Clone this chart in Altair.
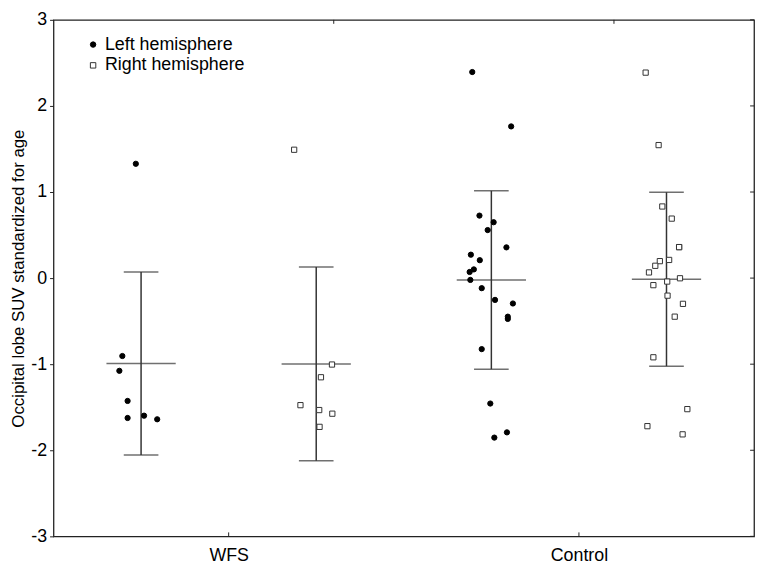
import altair as alt
import pandas as pd

# ---- data ----
series_names = ["WFS Left", "WFS Right", "Control Left", "Control Right"]
series_pos = [1, 2, 3, 4]
series_hemi = ["Left hemisphere", "Right hemisphere", "Left hemisphere", "Right hemisphere"]

wfs_left_y = [1.328, -0.905, -1.077, -1.427, -1.625, -1.598, -1.640]
wfs_left_jit = [-0.030, -0.107, -0.124, -0.077, -0.077, 0.017, 0.092]

wfs_right_y = [1.491, -1.004, -1.152, -1.476, -1.533, -1.575, -1.728]
wfs_right_jit = [-0.126, 0.090, 0.027, -0.090, 0.017, 0.092, 0.019]

ctrl_left_y = [2.394, 1.762, 0.726, 0.649, 0.558, 0.357, 0.272, 0.208, 0.101, 0.071,
               -0.021, -0.117, -0.253, -0.295, -0.448, -0.474, -0.825, -1.457, -1.792, -1.853]
ctrl_left_jit = [-0.109, 0.113, -0.068, 0.013, -0.021, 0.086, -0.117, -0.066, -0.100, -0.124,
                 -0.120, -0.055, 0.021, 0.123, 0.094, 0.094, -0.055, -0.006, 0.089, 0.017]

ctrl_right_y = [2.387, 1.545, 0.832, 0.691, 0.360, 0.211, 0.197, 0.143, 0.066, -0.002,
                -0.040, -0.082, -0.204, -0.299, -0.448, -0.920, -1.522, -1.720, -1.815, 0.360]
ctrl_right_jit = [-0.119, -0.045, -0.024, 0.030, 0.072, 0.015, -0.038, -0.064, -0.100, 0.077,
                  0.004, -0.075, 0.006, 0.094, 0.047, -0.075, 0.119, -0.109, 0.092, 0.072]

group_tick_values = [1.5, 3.5]
group_tick_labels = ["WFS", "Control"]
top_tick_values = [2.1, 3.7]
y_tick_values = [-3, -2, -1, 0, 1, 2, 3]

# ---- build tables ----
all_y = [wfs_left_y, wfs_right_y, ctrl_left_y, ctrl_right_y]
all_jit = [wfs_left_jit, wfs_right_jit, ctrl_left_jit, ctrl_right_jit]

rows = []
for name, pos, hemi, ys, js in zip(series_names, series_pos, series_hemi, all_y, all_jit):
    for yv, jv in zip(ys, js):
        rows.append({"series": name, "x": pos + jv, "y": yv, "hemi": hemi})
pts = pd.DataFrame(rows)

summ_rows = []
for name, pos, ys in zip(series_names, series_pos, all_y):
    s = pd.Series(ys)
    m, sd = s.mean(), s.std(ddof=1)
    summ_rows.append({"series": name, "pos": pos, "mean": m, "lo": m - sd, "hi": m + sd})
summ = pd.DataFrame(summ_rows)

ticks_df = pd.DataFrame({"v": group_tick_values, "lab": group_tick_labels})
top_df = pd.DataFrame({"v": top_tick_values})
yt_df = pd.DataFrame({"v": y_tick_values})

FONT = "Liberation Sans"
FS = 18
LINE = "#333333"
H = 522

xscale = alt.Scale(domain=[0.5, 4.5], nice=False, zero=False)
yscale = alt.Scale(domain=[-3, 3], nice=False, zero=False)

label_expr = "datum.value == 1.5 ? 'WFS' : (datum.value == 3.5 ? 'Control' : '')"

xenc = alt.X("pos:Q", scale=xscale,
             axis=alt.Axis(values=group_tick_values, labelExpr=label_expr, title=None,
                           domain=False, ticks=False, grid=False, labelPadding=10,
                           labelFontSize=FS, labelFont=FONT, labelColor="black"))
yaxis = alt.Axis(values=y_tick_values, labelExpr="'' + datum.value", grid=False, domain=False,
                 tickSize=4, tickColor="#222222", labelPadding=3, labelFontSize=FS,
                 labelFont=FONT, labelColor="black",
                 title="Occipital lobe SUV standardized for age", titleFontSize=17,
                 titleFont=FONT, titleFontWeight="normal", titleColor="black",
                 titleX=-30, titleBaseline="alphabetic")

base = alt.Chart(summ)

bars = base.mark_rule(color=LINE, strokeWidth=1.5).encode(
    x=xenc, y=alt.Y("lo:Q", scale=yscale, axis=yaxis), y2="hi:Q")
cap_lo = base.mark_tick(orient="horizontal", size=35, thickness=1.5, color=LINE).encode(
    x="pos:Q", y="lo:Q")
cap_hi = base.mark_tick(orient="horizontal", size=35, thickness=1.5, color=LINE).encode(
    x="pos:Q", y="hi:Q")
mean_line = base.mark_tick(orient="horizontal", size=70, thickness=1.5, color=LINE).encode(
    x="pos:Q", y="mean:Q")

hemi_dom = ["Left hemisphere", "Right hemisphere"]
points = alt.Chart(pts).mark_point(size=28, strokeWidth=1, opacity=1).encode(
    x=alt.X("x:Q"),
    y=alt.Y("y:Q"),
    shape=alt.Shape("hemi:N", scale=alt.Scale(domain=hemi_dom, range=["circle", "square"]),
                    legend=alt.Legend(title=None)),
    fill=alt.Fill("hemi:N", scale=alt.Scale(domain=hemi_dom, range=["black", "white"]),
                  legend=alt.Legend(title=None)),
    stroke=alt.Stroke("hemi:N", scale=alt.Scale(domain=hemi_dom, range=["black", "#333333"]),
                      legend=alt.Legend(title=None)),
)

bottom_ticks = alt.Chart(ticks_df).mark_rule(color="#222222", strokeWidth=1).encode(
    x="v:Q", y=alt.value(H), y2=alt.value(H - 4))
top_ticks = alt.Chart(top_df).mark_rule(color="#222222", strokeWidth=1).encode(
    x="v:Q", y=alt.value(0), y2=alt.value(4))
right_ticks = alt.Chart(yt_df).mark_rule(color="#222222", strokeWidth=1).encode(
    y="v:Q", x=alt.value(708), x2=alt.value(704))

chart = alt.layer(bars, cap_lo, cap_hi, mean_line, bottom_ticks, top_ticks, right_ticks, points).properties(
    width=708, height=H,
    autosize=alt.AutoSizeParams(type="none"),
    padding={"left": 46, "top": 9, "right": 6, "bottom": 28},
    background="white",
).configure_view(
    stroke="#222222", strokeWidth=1.3
).configure_legend(
    orient="none", legendX=31, legendY=16, labelFontSize=FS, labelFont=FONT,
    labelColor="black", symbolSize=30, symbolStrokeWidth=1, labelOffset=3, rowPadding=3,
)

chart.save("out.html", embed_options={"renderer": "svg", "actions": False})
